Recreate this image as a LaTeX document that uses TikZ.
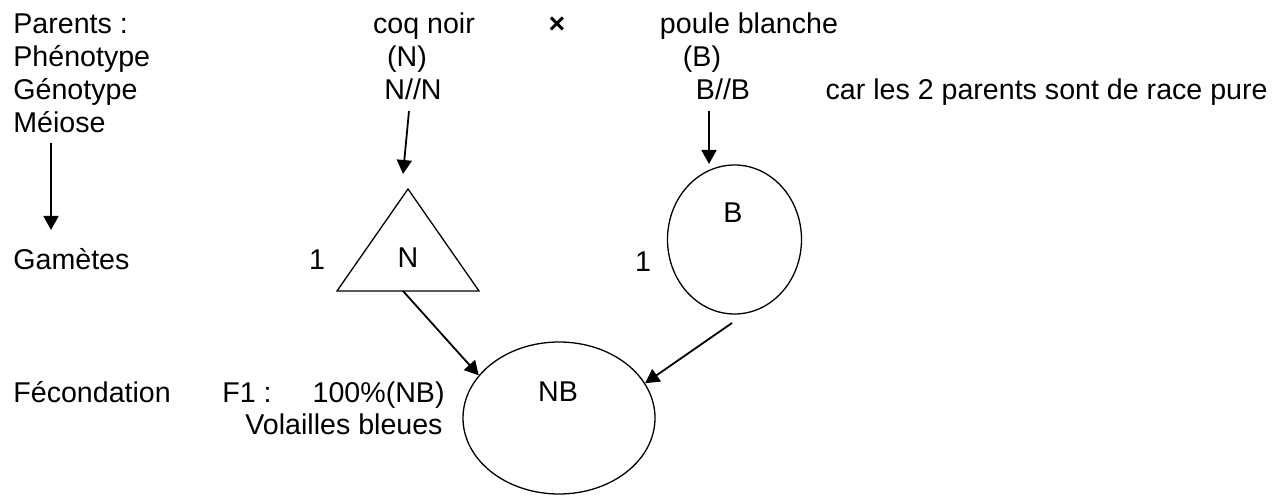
\documentclass[tikz,border=0pt]{standalone}
\usepackage{fontspec}
\setmainfont{Liberation Sans}
\usetikzlibrary{shapes.geometric,arrows.meta}

\begin{document}
\begin{tikzpicture}[
    x=0.5pt, y=-0.5pt,
    every node/.style={inner sep=0pt, font=\fontsize{14.3}{17}\selectfont},
    gam/.style={draw, ellipse, line width=0.65pt},
    arr/.style={line width=0.9pt, -{Triangle[length=7pt, width=7.5pt]}}
]
    \useasboundingbox (0,0) rectangle (1286,496);

    % step names on the left
    \node[anchor=base west] (parents) at (13,34)  {Parents :};
    \node[anchor=base west] (pheno)   at (13,67)  {Phénotype};
    \node[anchor=base west] (geno)    at (13,100) {Génotype};
    \node[anchor=base west] (meiose)  at (13,133) {Méiose};
    \node[anchor=base west] (gametes) at (13,270) {Gamètes};
    \node[anchor=base west] (fecond)  at (13,403) {Fécondation};

    % the cross
    \node[anchor=base] (coq)    at (424,34)  {coq noir};
    \node[anchor=base] (croix)  at (557,34)  {\textbf{×}};
    \node[anchor=base] (poule)  at (749,34)  {poule blanche};
    \node[anchor=base] (phN)    at (407,67)  {(N)};
    \node[anchor=base] (phB)    at (702,67)  {(B)};
    \node[anchor=base] (gNN)    at (413,100) {N//N};
    \node[anchor=base] (gBB)    at (723,100) {B//B};
    \node[anchor=base east] (pure) at (1268,100) {car les 2 parents sont de race pure};

    % gametes
    \coordinate (tN)  at (408,189);
    \coordinate (tNl) at (337,291);
    \coordinate (tNr) at (479,291);
    \draw[line width=0.65pt] (tN) -- (tNl) -- (tNr) -- cycle;
    \node[anchor=base] (lN)  at (408,268) {N};
    \node[anchor=base] (unN) at (317,270) {1};
    \node[gam, minimum width=67pt, minimum height=74.5pt] (gB) at (734.5,239.5) {};
    \node[anchor=base] (lB)  at (733,223) {B};
    \node[anchor=base] (unB) at (643,272) {1};

    % F1
    \node[gam, minimum width=96pt, minimum height=76pt] (oeuf) at (559,418) {};
    \node[anchor=base] (lNB) at (558,402) {NB};
    \node[anchor=base west] (f1)  at (222,403) {F1 :};
    \node[anchor=base east] (pct) at (445,403) {100\%(NB)};
    \node[anchor=base east] (vol) at (443,435) {Volailles bleues};

    % arrows
    \coordinate (m1) at (51,143);
    \coordinate (m2) at (51,230);
    \coordinate (aN) at (409,111);
    \coordinate (bN) at (403,174);
    \coordinate (aB) at (709,111);
    \coordinate (bB) at (709,164);
    \coordinate (tNb) at (403,291);
    \coordinate (gBb) at (732,323);
    \draw[arr] (m1) -- (m2);
    \draw[arr] (aN) -- (bN);
    \draw[arr] (aB) -- (bB);
    \draw[arr] (tNb) -- (oeuf.152);
    \draw[arr] (gBb) -- (oeuf.22);
\end{tikzpicture}
\end{document}
